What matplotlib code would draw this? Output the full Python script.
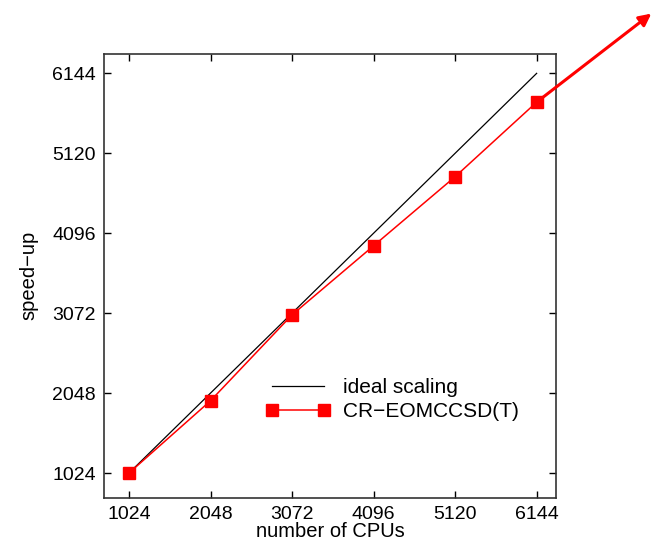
import matplotlib
matplotlib.use("Agg")
import matplotlib.pyplot as plt

plt.rcParams['font.family'] = ['Liberation Sans', 'DejaVu Sans']

cpus = [1024, 2048, 3072, 4096, 5120, 6144]
ideal = [1024, 2048, 3072, 4096, 5120, 6144]
speedup = [1024, 1950, 3050, 3935, 4820, 5775]
ticks = [1024, 2048, 3072, 4096, 5120, 6144]

fig = plt.figure(figsize=(6.52, 5.43), dpi=100)
ax = fig.add_axes([0.1595, 0.083, 0.693, 0.818])

ax.plot(cpus, ideal, color='black', lw=0.9, label='ideal scaling')
ax.plot(cpus, speedup, color='red', lw=1.1, marker='s', markersize=8.5,
        label='CR\u2212EOMCCSD(T)')

ax.set_xlim(710, 6385)
ax.set_ylim(705, 6395)
ax.set_xticks(ticks)
ax.set_yticks(ticks)
ax.tick_params(direction='in', top=True, right=True, labelsize=14, length=5, width=1, pad=6)
for s in ax.spines.values():
    s.set_linewidth(1.2)
    s.set_color('#333333')

ax.set_xlabel('number of CPUs', fontsize=14.5, labelpad=-1)
ax.set_ylabel('speed\u2212up', fontsize=14.5, labelpad=10)

ax.legend(loc='center left', bbox_to_anchor=(0.34, 0.221), borderaxespad=0,
          frameon=False, fontsize=15, numpoints=2,
          handlelength=3.1, labelspacing=0.25, handletextpad=0.6)

# red arrow leaving the last point toward the upper right corner
ax.annotate('', xy=(0.999, 0.975), xycoords='figure fraction',
            xytext=(cpus[-1], speedup[-1]), textcoords='data',
            arrowprops=dict(arrowstyle='-|>', color='red', lw=2.2, mutation_scale=18,
                            shrinkA=0, shrinkB=0),
            annotation_clip=False)

fig.savefig('out.png', dpi=100)
